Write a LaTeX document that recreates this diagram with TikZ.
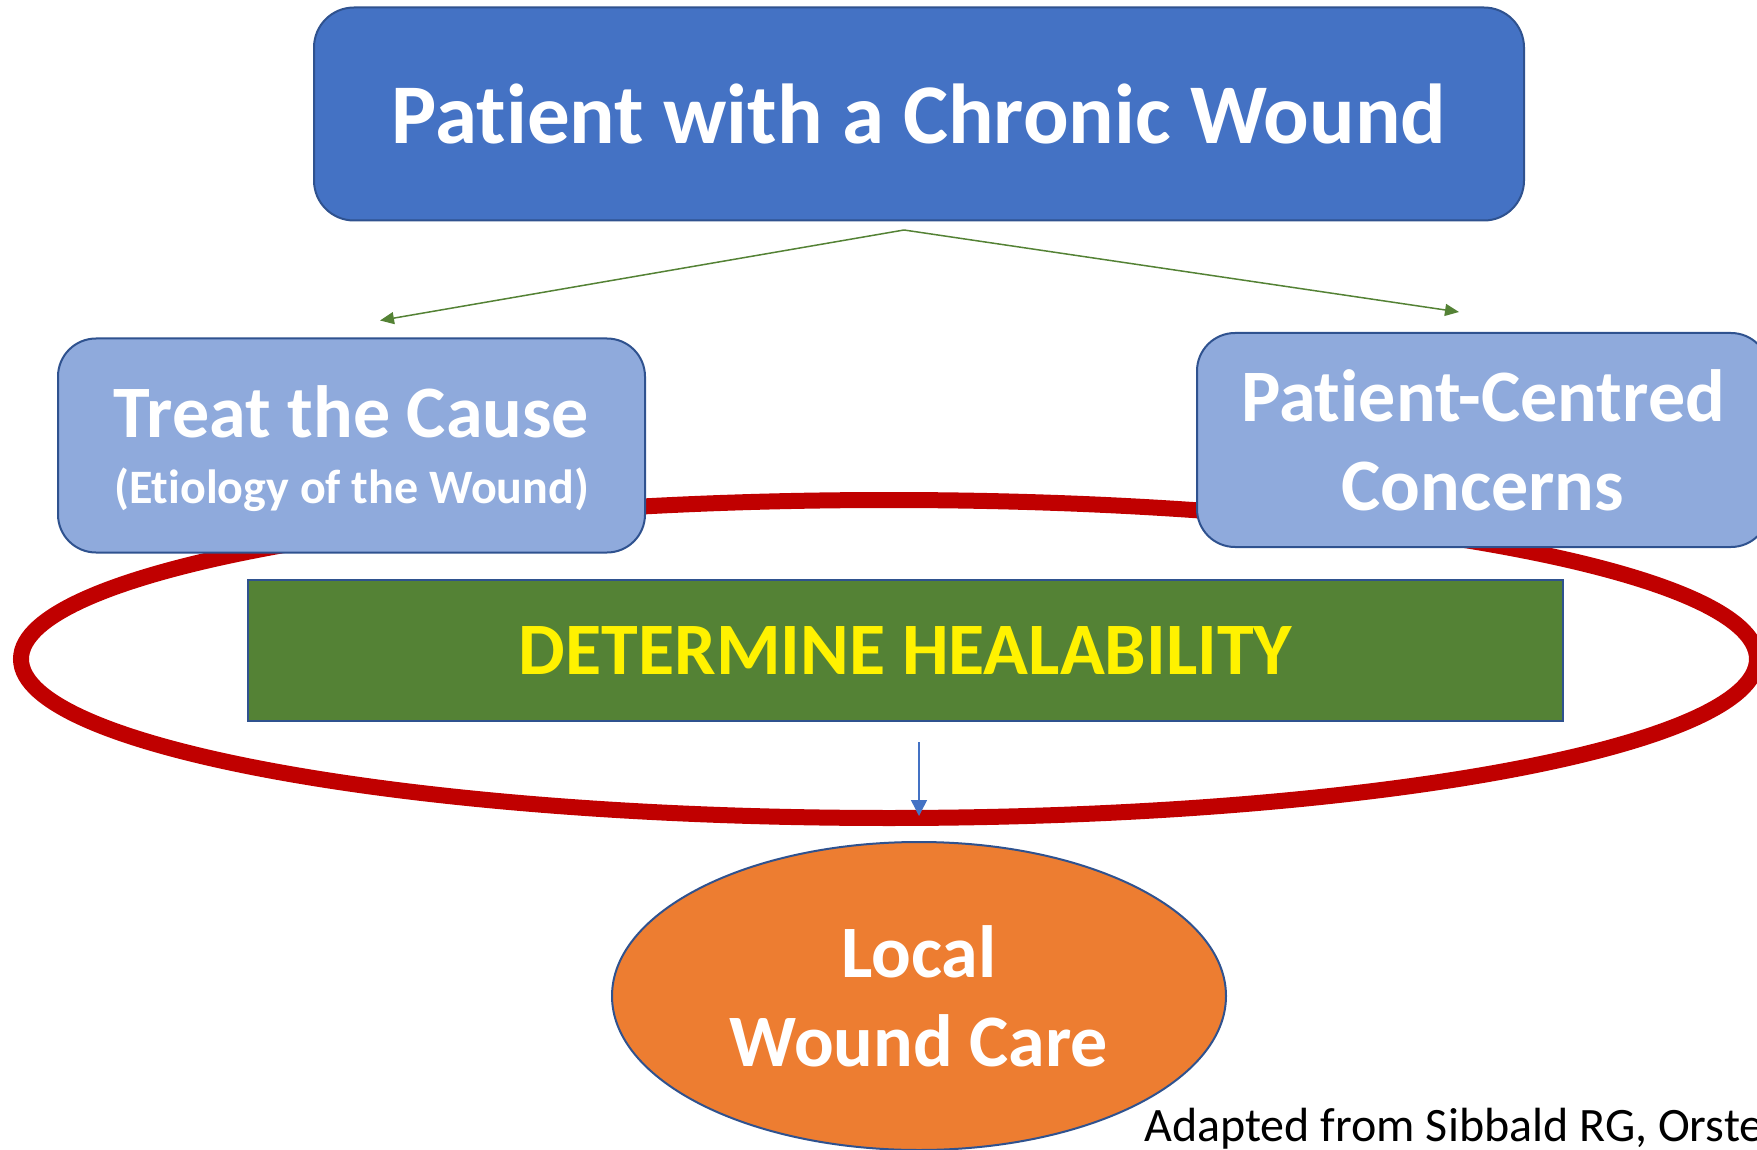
\documentclass[tikz,border=0pt]{standalone}
\usepackage{fontspec}
\setmainfont{Carlito}[Ligatures=NoCommon]
\usetikzlibrary{shapes.geometric, arrows.meta, positioning}
\definecolor{titleblue}{HTML}{4472C4}
\definecolor{edgeblue}{HTML}{2F528F}
\definecolor{sideblue}{HTML}{8FAADC}
\definecolor{healgreen}{HTML}{548235}
\definecolor{ringred}{HTML}{C00000}
\definecolor{careorange}{HTML}{ED7D31}
\tikzstyle{arrow} = [line width=0.75pt, draw=healgreen, -{Triangle[length=7pt,width=6pt]}, healgreen]
\tikzstyle{downarrow} = [line width=0.75pt, draw=titleblue, -{Triangle[length=8pt,width=8pt]}, titleblue]
\tikzstyle{titlebox} = [rectangle, rounded corners=20pt, minimum width=605pt, minimum height=106.5pt, fill=titleblue, draw=edgeblue, line width=1pt, text=white, font=\bfseries\fontsize{42.5}{51}\selectfont]
\tikzstyle{sidebox} = [rectangle, rounded corners=19pt, minimum height=107pt, fill=sideblue, draw=edgeblue, line width=1pt, text=white, align=center, inner sep=0pt]
\tikzstyle{healbox} = [rectangle, minimum width=657.5pt, minimum height=70.5pt, fill=healgreen, draw=edgeblue, line width=1pt, text=yellow, font=\bfseries\fontsize{37}{44.5}\selectfont]
\tikzstyle{ring} = [ellipse, minimum width=868pt, minimum height=159pt, inner sep=0pt, draw=ringred, line width=8pt]
\tikzstyle{care} = [ellipse, minimum width=307pt, minimum height=154pt, inner sep=0pt, fill=careorange, draw=edgeblue, line width=1pt, text=white, align=center, font=\bfseries\fontsize{37}{44.5}\selectfont]

\begin{document}
\begin{tikzpicture}[x=0.5pt, y=-0.5pt]
\useasboundingbox (0,0) rectangle (1757,1150);
\clip (0,0) rectangle (1757,1150);
% Placement of nodes
\node (title) [titlebox] at (919,114) {Patient with a Chronic Wound};
\node (healring) [ring, below of=title, node distance=272.5pt, xshift=-15pt] {};
\node (cause) [sidebox, minimum width=293.5pt, below of=title, node distance=165.75pt, xshift=-283.75pt, font=\bfseries\fontsize{37}{33}\selectfont]
  {\rule{0pt}{29pt}Treat the Cause\\{\fontsize{24}{33}\selectfont (Etiology of the Wound)}};
\node (concerns) [sidebox, minimum width=286pt, below of=title, node distance=163pt, xshift=282pt, font=\bfseries\fontsize{37}{44.5}\selectfont]
  {Patient-Centred\\Concerns};
\node (heal) [healbox, below of=title, node distance=268.25pt, xshift=-6.75pt] {DETERMINE HEALABILITY};
\node (local) [care, below of=heal, node distance=172.75pt, xshift=6.75pt] {Local\\Wound Care};

% Source note
\node (source) [anchor=base west, inner sep=0pt, font=\fontsize{24}{29}\selectfont] at (1144,1141) {Adapted from Sibbald RG, Orste};

% Placement of edges
\coordinate (split) at (904,230);
\draw [arrow] (split) -- ([xshift=14.25pt, yshift=8.5pt]cause.north);
\draw [arrow] (split) -- ([xshift=-12pt, yshift=10pt]concerns.north);
\draw [downarrow] ([xshift=6.75pt, yshift=-10pt]heal.south) -- ([yshift=12.5pt]local.north);
\end{tikzpicture}
\end{document}
